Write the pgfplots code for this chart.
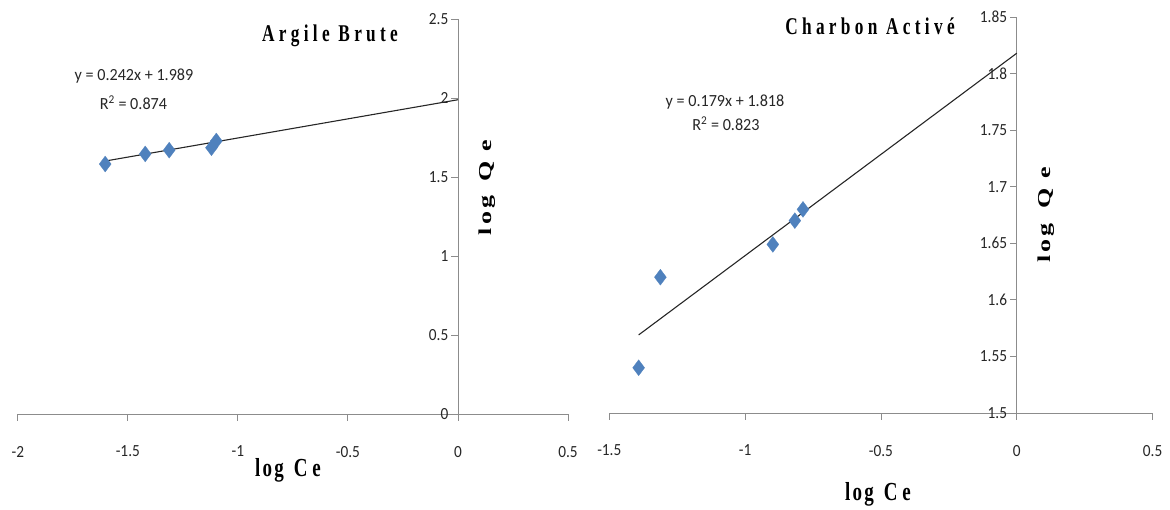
\documentclass[border=0pt]{standalone}
\usepackage{pgfplots}
\pgfplotsset{compat=1.18}
\usepackage{fontspec}
\setmainfont{Carlito}
\newfontfamily\ttl[LetterSpace=25]{Liberation Serif}
\newfontfamily\lbl[LetterSpace=12]{Liberation Serif}
\definecolor{axgray}{HTML}{8C8C8C}
\definecolor{markblue}{HTML}{4F81BD}

\pgfplotsset{
  panel/.style={
    scale only axis, anchor=south west,
    axis x line=bottom, axis y line=middle,
    axis line style={draw=axgray, line width=0.9pt, -},
    tick style={draw=axgray, line width=0.9pt},
    tick align=outside, major tick length=6.5pt,
    every tick label/.append style={font=\fontsize{17}{17}\selectfont, text=black!85, xscale=0.9},
    /pgf/number format/assume math mode=true,
    /pgf/number format/fixed,
    /pgf/number format/precision=2,
    hide obscured x ticks=false, hide obscured y ticks=false,
    xticklabel style={yshift=-22pt},
    clip=false,
  },
  pts/.style={only marks, mark=diamond*, mark size=8pt,
    mark options={fill=markblue, draw=markblue, line width=0.2pt}},
  fit/.style={black!85, line width=1.1pt},
}
\tikzset{
  eq/.style={anchor=base, inner sep=0pt, font=\fontsize{17}{17}\selectfont, text=black!85, xscale=0.95},
}
\newcommand{\logCe}{\scalebox{0.73}[1]{\fontsize{26}{26}\lbl\bfseries log\hspace{4pt} C\hspace{-3pt} e}}
\newcommand{\logQe}{\scalebox{1}[0.7]{\fontsize{26}{26}\lbl\bfseries log\hspace{5pt} Q e}}

\begin{document}
\begin{tikzpicture}[x=1pt, y=1pt]
\useasboundingbox (0,0) rectangle (1170,509);

% Argile brute
\begin{axis}[panel, at={(17.8pt,95pt)}, width=550.2pt, height=395pt,
  xmin=-2, xmax=0.5, ymin=0, ymax=2.5,
  xtick={-2,-1.5,...,0.5}, ytick={0,0.5,...,2.5}]
  \addplot[fit] coordinates {(-1.603,1.601) (0,1.989)};
  \addplot[pts] coordinates {
    (-1.603,1.582) (-1.421,1.646) (-1.312,1.670) (-1.120,1.685) (-1.098,1.728)};
\end{axis}

% Charbon active
\begin{axis}[panel, at={(609.3pt,96pt)}, width=543.3pt, height=396pt,
  xmin=-1.5, xmax=0.5, ymin=1.5, ymax=1.85,
  xtick={-1.5,-1,...,0.5}, ytick={1.5,1.55,...,1.85}]
  \addplot[fit] coordinates {(-1.392,1.569) (0,1.818)};
  \addplot[pts] coordinates {
    (-1.392,1.540) (-1.312,1.620) (-0.898,1.649) (-0.817,1.670) (-0.787,1.680)};
\end{axis}

% titles
\node[anchor=base, inner sep=0pt] at (330,467.5) {\scalebox{0.72}[1]{\fontsize{24}{24}\ttl\bfseries Argile Brute}};
\node[anchor=base, inner sep=0pt] at (870,474.7) {\scalebox{0.72}[1]{\fontsize{24}{24}\ttl\bfseries Charbon Activé}};

% fitted equations
\node[eq] at (134,428) {y = 0.242x + 1.989};
\node[eq] at (133.5,399.7) {R\textsuperscript{2} = 0.874};
\node[eq] at (725,402.3) {y = 0.179x + 1.818};
\node[eq] at (726,378.3) {R\textsuperscript{2} = 0.823};

% axis titles
\node[anchor=base, inner sep=0pt] at (288,32.3) {\logCe};
\node[anchor=base, inner sep=0pt] at (878,9) {\logCe};
\node[rotate=90, inner sep=0pt] at (487,321.5) {\logQe};
\node[rotate=90, inner sep=0pt] at (1046,294) {\logQe};
\end{tikzpicture}
\end{document}
